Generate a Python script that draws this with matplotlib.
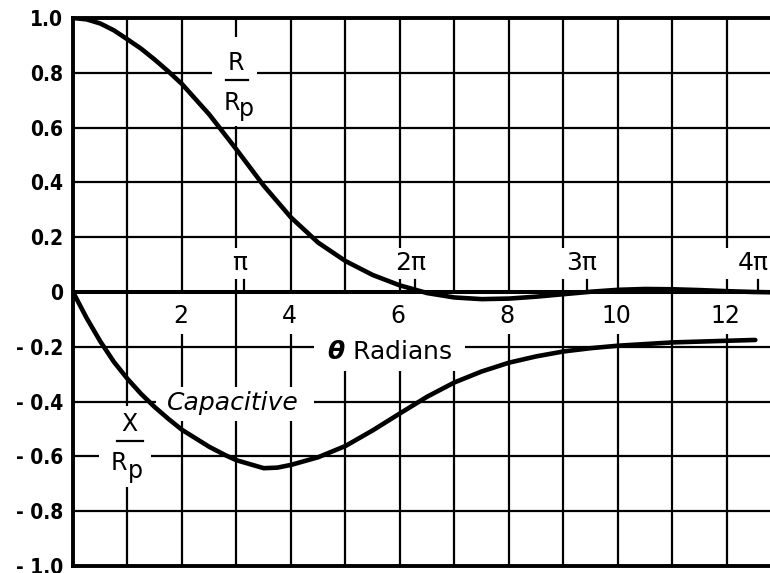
import numpy as np
import matplotlib
matplotlib.use("Agg")
import matplotlib.pyplot as plt
from matplotlib import font_manager
from matplotlib.patches import Rectangle

# Normalised resistance R/Rp against transit angle theta (radians)
theta_r = [0.0, 0.25, 0.5, 0.75, 1.0, 1.25, 1.5, 1.75, 2.0, 2.5, 3.0, 3.5,
           4.0, 4.5, 5.0, 5.5, 6.0, 6.5, 7.0, 7.5, 8.0, 8.5, 9.0, 9.5, 10.0,
           10.5, 11.0, 11.5, 12.0, 12.5, 12.8]
r_ratio = [1.0, 0.995, 0.98, 0.955, 0.922, 0.888, 0.848, 0.805, 0.759, 0.648,
           0.52, 0.388, 0.272, 0.18, 0.113, 0.062, 0.024, -0.004, -0.02,
           -0.026, -0.024, -0.017, -0.008, 0.001, 0.008, 0.011, 0.010, 0.007,
           0.003, 0.0, -0.001]

# Normalised (capacitive) reactance X/Rp against theta
theta_x = [0.0, 0.25, 0.5, 0.75, 1.0, 1.25, 1.5, 1.75, 2.0, 2.5, 2.8, 3.0,
           3.5, 3.75, 4.0, 4.5, 5.0, 5.5, 6.0, 6.5, 7.0, 7.5, 8.0, 8.5, 9.0,
           9.5, 10.0, 10.5, 11.0, 11.5, 12.0, 12.52]
x_ratio = [0.0, -0.095, -0.18, -0.255, -0.317, -0.372, -0.42, -0.463, -0.503,
           -0.565, -0.596, -0.614, -0.643, -0.641, -0.631, -0.603, -0.562,
           -0.505, -0.443, -0.382, -0.33, -0.29, -0.258, -0.235, -0.217,
           -0.205, -0.196, -0.19, -0.184, -0.181, -0.178, -0.175]

x_grid = list(range(0, 13))
x_tick_values = [2, 4, 6, 8, 10, 12]
x_tick_labels = ["2", "4", "6", "8", "10", "12"]
pi_multiples = [1, 2, 3, 4]
pi_labels = ["\u03c0", "2\u03c0", "3\u03c0", "4\u03c0"]
y_tick_values = [-1.0, -0.8, -0.6, -0.4, -0.2, 0.0, 0.2, 0.4, 0.6, 0.8, 1.0]
y_tick_labels = ["- 1.0", "- 0.8", "- 0.6", "- 0.4", "- 0.2", "0",
                 "0.2", "0.4", "0.6", "0.8", "1.0"]

available = {f.name for f in font_manager.fontManager.ttflist}
if "Liberation Sans Narrow" in available:
    narrow = dict(family="Liberation Sans Narrow", fontsize=17, fontweight="bold")
else:
    narrow = dict(family="DejaVu Sans", fontsize=15, fontweight="bold",
                  fontstretch="condensed")
label_font = dict(family="DejaVu Sans", color="black")

fig = plt.figure(figsize=(7.7, 5.73), dpi=100)
ax = fig.add_axes([73 / 770, 1 - 566 / 573, 1 - 73 / 770, (566 - 18) / 573])
ax.set_xlim(0, 12.79)
ax.set_ylim(-1.0, 1.0)

# grid
ax.set_axisbelow(True)
ax.set_xticks(x_grid)
ax.set_xticklabels([])
ax.set_yticks(y_tick_values)
ax.set_yticklabels(y_tick_labels, **narrow)
ax.tick_params(axis="both", length=0)
ax.tick_params(axis="y", pad=7)
ax.grid(True, color="black", linewidth=1.6)

for side in ("left", "top", "bottom"):
    ax.spines[side].set_linewidth(2.8)
ax.spines["right"].set_visible(False)

ax.axhline(0, color="black", linewidth=2.9, zorder=2.5)

# cleared areas of the grid behind the lettering (x0, x1, y0, y1)
clear_boxes = [
    (2.55, 3.38, 0.607, 0.93),      # R / Rp
    (0.48, 1.43, -0.71, -0.415),    # X / Rp
    (1.52, 4.42, -0.47, -0.345),    # Capacitive
    (4.42, 7.20, -0.29, 0.0),       # theta Radians
    (2.85, 3.30, 0.047, 0.16),      # pi
    (5.75, 6.45, 0.047, 0.16),      # 2pi
    (8.93, 9.70, 0.047, 0.16),      # 3pi
    (11.90, 12.60, 0.047, 0.16),    # 4pi
]
for v in x_tick_values:
    clear_boxes.append((v - 0.3, v + 0.3, -0.155, 0.0))
for x0, x1, y0, y1 in clear_boxes:
    ax.add_patch(Rectangle((x0, y0), x1 - x0, y1 - y0, facecolor="white",
                           edgecolor="none", zorder=1))

# curves
ax.plot(theta_r, r_ratio, color="black", linewidth=3.3, zorder=3,
        solid_capstyle="round", solid_joinstyle="round")
ax.plot(theta_x, x_ratio, color="black", linewidth=3.3, zorder=3,
        solid_capstyle="round", solid_joinstyle="round")

# theta scale labels along the zero line
for v, lab in zip(x_tick_values, x_tick_labels):
    ax.text(v - 0.03, -0.088, lab, ha="center", va="center", fontsize=17,
            zorder=4, **label_font)

# multiples of pi above the zero line
for m, lab in zip(pi_multiples, pi_labels):
    xp = m * np.pi
    ax.plot([xp, xp], [0.0, 0.045], color="black", linewidth=1.6, zorder=2.5)
    ax.text(xp - 0.09, 0.105, lab, ha="center", va="center", fontsize=18,
            zorder=4, **label_font)

# curve names
ax.text(2.99, 0.835, "R", ha="center", va="center", fontsize=17, zorder=4,
        **label_font)
ax.plot([2.80, 3.22], [0.775, 0.775], color="black", linewidth=1.6, zorder=4)
ax.text(2.91, 0.665, "R", ha="center", va="baseline", fontsize=17, zorder=4,
        **label_font)
ax.text(3.05, 0.643, "p", ha="left", va="baseline", fontsize=17, zorder=4,
        **label_font)

ax.text(1.04, -0.48, "X", ha="center", va="center", fontsize=17, zorder=4,
        **label_font)
ax.plot([0.81, 1.29], [-0.544, -0.544], color="black", linewidth=1.6, zorder=4)
ax.text(0.85, -0.65, "R", ha="center", va="baseline", fontsize=17, zorder=4,
        **label_font)
ax.text(1.0, -0.68, "p", ha="left", va="baseline", fontsize=17, zorder=4,
        **label_font)

ax.text(2.94, -0.405, "Capacitive", ha="center", va="center", fontsize=18,
        fontstyle="italic", zorder=4, **label_font)
ax.text(5.82, -0.218, r"$\boldsymbol{\theta}$ Radians", ha="center",
        va="center", fontsize=18, zorder=4, **label_font)

fig.savefig("out.png", dpi=100)
